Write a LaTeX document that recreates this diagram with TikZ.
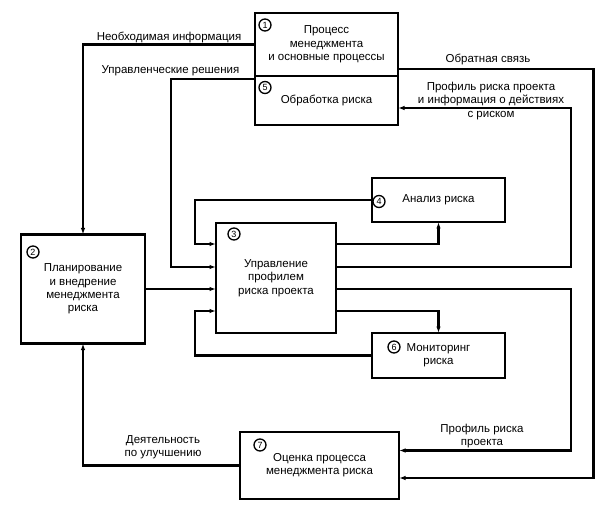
\documentclass[tikz,border=0pt]{standalone}
\usepackage{fontspec}
\setmainfont{Liberation Sans}
\usetikzlibrary{arrows.meta}

\begin{document}
\begin{tikzpicture}[x=1pt,y=-1pt,
  box/.style={draw,line width=2.8pt,outer sep=0pt,inner sep=2pt,align=center,
    font=\fontsize{11.5}{13.3}\selectfont},
  num/.style={draw,circle,line width=1.3pt,minimum size=12pt,inner sep=0pt,
    font=\fontsize{9}{9}\selectfont},
  link/.style={line width=2.4pt,-{Latex[length=6.5pt,width=4.5pt]}},
  lbl/.style={align=center,inner sep=0pt,font=\fontsize{11.5}{13.3}\selectfont}]
  \useasboundingbox (0,0) rectangle (605,513);
  \begin{scope}
    \node[box,minimum width=143pt,minimum height=63pt] (p1) at (326.5,44.5) {Процесс\\менеджмента\\и основные процессы};
    \node[box,minimum width=143pt,minimum height=49pt] (p5) at (326.5,100.5) {Обработка риска};
    \node[box,minimum width=124pt,minimum height=109pt] (p2) at (83,289) {Планирование\\и внедрение\\менеджмента\\риска};
    \node[box,minimum width=120pt,minimum height=110pt] (p3) at (276,278) {Управление\\профилем\\риска проекта};
    \node[box,minimum width=133pt,minimum height=44pt] (p4) at (438.5,200) {Анализ риска};
    \node[box,minimum width=133pt,minimum height=45pt] (p6) at (438.5,355.5) {Мониторинг\\риска};
    \node[box,minimum width=159pt,minimum height=67pt] (p7) at (319.5,465.5) {Оценка процесса\\менеджмента риска};
    \node[num] (n1) at (265,25) {1};
    \node[num] (n5) at (265,87.5) {5};
    \node[num] (n2) at (33,252) {2};
    \node[num] (n3) at (234,234) {3};
    \node[num] (n4) at (379,201.5) {4};
    \node[num] (n6) at (394,347) {6};
    \node[num] (n7) at (260,445) {7};
  \end{scope}
  \coordinate (kM) at (171,0);
  \coordinate (kL) at (195,0);
  \coordinate (kR1) at (570.7,0);
  \coordinate (kR2) at (593.3,0);
  \coordinate (w1) at ([yshift=34pt]p3.west);
  \coordinate (w2) at ([yshift=11pt]p3.west);
  \coordinate (w3) at ([yshift=-11pt]p3.west);
  \coordinate (w4) at ([yshift=-33pt]p3.west);
  \coordinate (e1) at ([yshift=34pt]p3.east);
  \coordinate (e2) at ([yshift=11pt]p3.east);
  \coordinate (e3) at ([yshift=-11pt]p3.east);
  \coordinate (e4) at ([yshift=-33pt]p3.east);
  \coordinate (f1) at ([yshift=7pt]p1.south east);
  \coordinate (r5) at ([yshift=-7.5pt]p5.east);
  \coordinate (q1) at ([yshift=15pt]p7.east);
  \coordinate (q2) at ([yshift=-12.5pt]p7.east);
  \draw[link] (p1.west) -| (p2.north);
  \draw[link] ([yshift=-3pt]p5.north west) -| (kM |- w2) -- (w2);
  \draw[link] (f1) -| (kR2 |- q2) -- (q2);
  \draw[link] (e2) -| (kR1 |- r5) -- (r5);
  \draw[link] (p2.east) -- (w3);
  \draw[link] (e1) -| (p4.south);
  \draw[link] (p4.west) -| (kL |- w1) -- (w1);
  \draw[link] (e4) -| (p6.north);
  \draw[link] (p6.west) -| (kL |- w4) -- (w4);
  \draw[link] (e3) -| (kR1 |- q1) -- (q1);
  \draw[link] (p7.west) -| (p2.south);
  \node[lbl] (tNeed) at (169,37.5) {Необходимая информация};
  \node[lbl] (tDec) at (170.5,70.5) {Управленческие решения};
  \node[lbl] (tFb) at (488,59.5) {Обратная связь};
  \node[lbl] (tProf) at (491,101) {Профиль риска проекта\\и информация о действиях\\с риском};
  \node[lbl] (tImp) at (163,447) {Деятельность\\по улучшению};
  \node[lbl] (tProf2) at (482,436) {Профиль риска\\проекта};
\end{tikzpicture}
\end{document}
